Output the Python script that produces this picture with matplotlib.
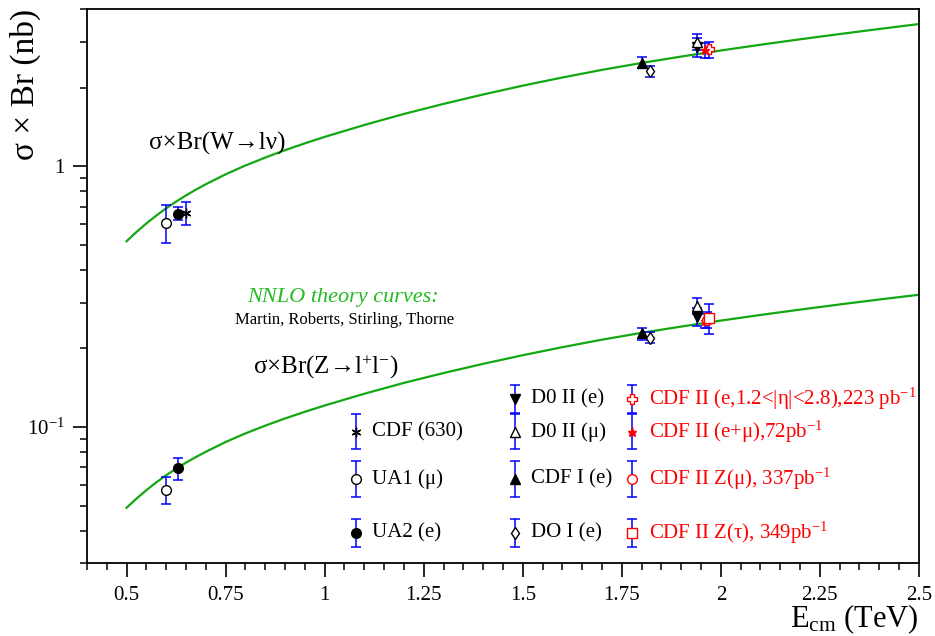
import matplotlib
matplotlib.use("Agg")
import matplotlib.pyplot as plt
from matplotlib.ticker import FixedLocator, LogLocator, NullFormatter


# NNLO theory curves
curve_energy = [0.5, 0.525, 0.55, 0.575, 0.6, 0.625, 0.65, 0.675, 0.7, 0.75, 0.8, 0.85, 0.9, 0.95,
                1.0, 1.1, 1.2, 1.3, 1.4, 1.5, 1.6, 1.7, 1.8, 1.9, 2.0, 2.1, 2.2, 2.3, 2.4, 2.5]
curve_w = [0.515, 0.559, 0.603, 0.646, 0.689, 0.731, 0.772, 0.8125, 0.852, 0.930, 1.005, 1.078,
           1.151, 1.222, 1.294, 1.437, 1.584, 1.731, 1.881, 2.033, 2.185, 2.337, 2.484, 2.628,
           2.773, 2.917, 3.061, 3.206, 3.353, 3.502]
curve_z = [0.04905, 0.05319, 0.0573, 0.06138, 0.06537, 0.06926, 0.07304, 0.07676, 0.08038,
           0.08763, 0.09454, 0.10122, 0.10787, 0.1144, 0.12093, 0.13414, 0.14762, 0.16104,
           0.17465, 0.18847, 0.20231, 0.21618, 0.22957, 0.24268, 0.25581, 0.26885, 0.28186,
           0.29498, 0.30818, 0.32128]

# measurements: name, plotted energy, W value/err, Z value/err (None = not measured)
names = ["CDF (630)", "UA1 (μ)", "UA2 (e)",
         "D0 II (e)", "D0 II (μ)", "CDF I (e)", "DO I (e)",
         "CDF II (e,1.2<|η|<2.8),223 pb$^{-1}$", "CDF II (e+μ),72pb$^{-1}$",
         "CDF II Z(μ), 337pb$^{-1}$", "CDF II Z(τ), 349pb$^{-1}$"]
energy = [0.65, 0.60, 0.63, 1.94, 1.94, 1.80, 1.82, 1.97, 1.96, 1.965, 1.97]
w_val = [0.66, 0.607, 0.658, 2.865, 2.99, 2.49, 2.31, 2.80, 2.775, None, None]
w_err = [0.067, 0.10, 0.039, 0.24, 0.21, 0.12, 0.11, 0.20, 0.18, None, None]
z_val = [None, 0.0576, 0.0694, 0.265, 0.291, 0.2285, 0.220, None, 0.255, 0.257, 0.262]
z_err = [None, 0.0068, 0.0067, 0.021, 0.020, 0.012, 0.011, None, 0.016, 0.018, 0.034]

# marker style per measurement
markers = [(6, 2, 0), "o", "o", "v", "^", "^", "d", "P", "*", "o", "s"]
face = ["black", "white", "black", "black", "white", "black", "white", "white", "red", "white", "white"]
edge = ["black", "black", "black", "black", "black", "black", "black", "red", "red", "red", "red"]
msize = [7, 7, 7, 6.5, 7, 6.5, 6.5, 7.5, 6.5, 7, 7]

# legend grid slot (column, row) per measurement
legend_slot = [(0, 1), (0, 2), (0, 3), (1, 0), (1, 1), (1, 2), (1, 3), (2, 0), (2, 1), (2, 2), (2, 3)]

x_ticks = [0.5, 0.75, 1, 1.25, 1.5, 1.75, 2, 2.25, 2.5]

GREEN = "#12a812"
BLUE = "#0000ff"

plt.rcParams["font.family"] = ["Liberation Serif", "DejaVu Serif"]
plt.rcParams["mathtext.fontset"] = "custom"
plt.rcParams["mathtext.rm"] = "Liberation Serif"
plt.rcParams["mathtext.it"] = "Liberation Serif:italic"

fig = plt.figure(figsize=(9.35, 6.36), dpi=100)
ax = fig.add_axes([0.093, 0.114, 0.8898, 0.8719])
ax.set_yscale("log")
ax.set_xlim(0.4, 2.5)
ax.set_ylim(0.03, 4.0)

ax.plot(curve_energy, curve_w, color=GREEN, lw=1.6, zorder=1)
ax.plot(curve_energy, curve_z, color=GREEN, lw=1.6, zorder=1)


def draw_point(axis, x, y, err, i):
    axis.errorbar([x], [y], yerr=[err], fmt="none", ecolor=BLUE, elinewidth=1.1,
                  capsize=3.5, capthick=1.1, zorder=2)
    axis.plot([x], [y], linestyle="none", marker=markers[i], markersize=msize[i],
              markerfacecolor=face[i], markeredgecolor=edge[i], markeredgewidth=1.0, zorder=3)


for i in range(len(names)):
    if w_val[i] is not None:
        draw_point(ax, energy[i], w_val[i], w_err[i], i)
    if z_val[i] is not None:
        draw_point(ax, energy[i], z_val[i], z_err[i], i)

# axes styling
for side in ax.spines.values():
    side.set_linewidth(1.3)
ax.xaxis.set_major_locator(FixedLocator(x_ticks))
ax.set_xticklabels([f"{t:g}" for t in x_ticks])
ax.xaxis.set_minor_locator(FixedLocator([0.4 + 0.05 * k for k in range(43)]))
ax.set_yticks([0.1, 1])
ax.set_yticklabels(["10$^{-1}$", "1"])
ax.yaxis.set_minor_locator(LogLocator(base=10, subs=range(2, 10)))
ax.yaxis.set_minor_formatter(NullFormatter())
ax.tick_params(which="major", direction="out", length=10, width=1.2, labelsize=15, pad=6)
ax.tick_params(which="minor", direction="out", length=5, width=1.1)
ax.tick_params(top=False, right=False)

ax.set_ylabel("σ × Br (nb)", fontsize=24, loc="top")
ax.yaxis.set_label_coords(-0.055, 1.0)
ax.set_xlabel("E$_{\\rm cm}$ (TeV)", fontsize=22, loc="right", labelpad=-2)

# curve labels
ax.text(0.556, 1.226, "σ×Br(W→lν)", fontsize=18, va="center", ha="left")
ax.text(0.82, 0.170, "σ×Br(Z→l$^{+}$l$^{-}$)", fontsize=18, va="center", ha="left")
ax.text(1.045, 0.313, "NNLO theory curves:", fontsize=16, color="#22bb22",
        style="italic", va="center", ha="center")
ax.text(1.05, 0.258, "Martin, Roberts, Stirling, Thorne", fontsize=12,
        va="center", ha="center")

# hand-built legend in axes fraction
leg = ax.inset_axes([0, 0, 1, 1])
leg.set_xlim(0, 1)
leg.set_ylim(0, 1)
leg.axis("off")
leg.patch.set_alpha(0)

col_x = [0.323, 0.514, 0.655]
row_y = [0.2967, 0.2377, 0.1524, 0.055]
row_half = [0.0252, 0.0316, 0.0325, 0.0252]

for i, (col, row) in enumerate(legend_slot):
    draw_point(leg, col_x[col], row_y[row], row_half[row], i)
    leg.text(col_x[col] + 0.02, row_y[row], names[i], fontsize=15,
             color="red" if col == 2 else "black", va="center", ha="left")

fig.savefig("out.png", dpi=100)
